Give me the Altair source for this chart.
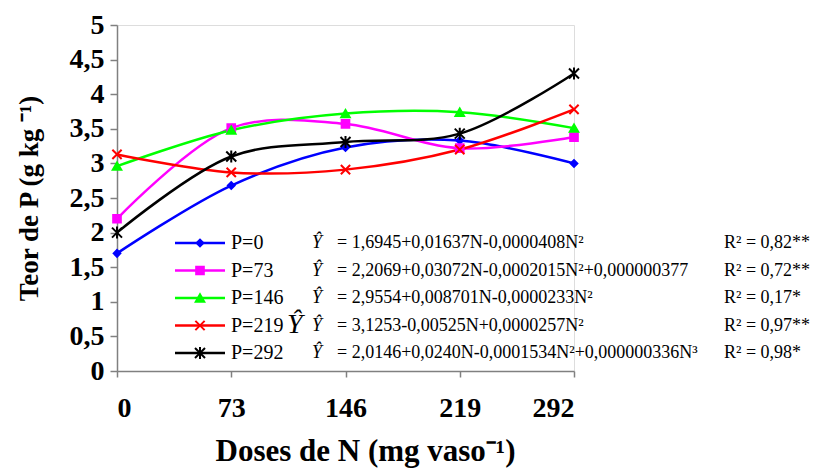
import altair as alt
import pandas as pd

doses = [0, 73, 146, 219, 292]
series = ["P=0", "P=73", "P=146", "P=219", "P=292"]
p0 = [1.70, 2.68, 3.23, 3.33, 3.00]
p73 = [2.20, 3.51, 3.57, 3.22, 3.38]
p146 = [2.96, 3.48, 3.72, 3.74, 3.51]
p219 = [3.13, 2.87, 2.91, 3.20, 3.78]
p292 = [2.00, 3.10, 3.31, 3.43, 4.30]
equations = [
    "= 1,6945+0,01637N-0,0000408N²",
    "= 2,2069+0,03072N-0,0002015N²+0,000000377",
    "= 2,9554+0,008701N-0,0000233N²",
    "= 3,1253-0,00525N+0,0000257N²",
    "= 2,0146+0,0240N-0,0001534N²+0,000000336N³",
]
r2 = ["R² = 0,82**", "R² = 0,72**", "R² = 0,17*", "R² = 0,97**", "R² = 0,98*"]
y_ticks = [0, 0.5, 1, 1.5, 2, 2.5, 3, 3.5, 4, 4.5, 5]

colors = ["#0000FF", "#FF00FF", "#00FF00", "#FF0000", "#000000"]
X_PATH = "M-1,-1L1,1M1,-1L-1,1"
AST_PATH = "M-1,-1L1,1M1,-1L-1,1M0,-1.2L0,1.2"
shapes = ["diamond", "square", "triangle-up", X_PATH, AST_PATH]
sizes = [45, 100, 80, 110, 100]

rows = []
for s, vals in zip(series, [p0, p73, p146, p219, p292]):
    for n, v in zip(doses, vals):
        rows.append({"series": s, "N": n, "teor": v})
df = pd.DataFrame(rows)

leg = pd.DataFrame({"series": series, "eq": equations, "r2": r2, "idx": list(range(len(series)))})

color = alt.Color("series:N", scale=alt.Scale(domain=series, range=colors), legend=None)
stroke = alt.Stroke("series:N", scale=alt.Scale(domain=series, range=colors), legend=None)
shape = alt.Shape("series:N", scale=alt.Scale(domain=series, range=shapes), legend=None)
size = alt.Size("series:N", scale=alt.Scale(domain=series, range=sizes), legend=None)

FONT = "Liberation Serif"

x_enc = alt.X(
    "N:Q",
    scale=alt.Scale(domain=[0, 292], nice=False, zero=False),
    axis=alt.Axis(
        values=doses, grid=False, title="Doses de N (mg vaso⁻¹)",
        titleX=248, titleY=89, titleAnchor=None, titleAlign="center", titleBaseline="alphabetic",
        labelFontSize=28, labelFont=FONT, labelFontWeight="bold", labelPadding=17,
        labelOverlap=False,
        titleFontSize=31, titleFont=FONT, titleFontWeight="bold",
        tickSize=6, domainColor="#808080", tickColor="#808080", domainWidth=1.5, tickWidth=1.5,
        labelColor="black", titleColor="black",
    ),
)
y_enc = alt.Y(
    "teor:Q",
    scale=alt.Scale(domain=[0, 5], nice=False),
    axis=alt.Axis(
        values=y_ticks, grid=False, title="Teor de P (g kg ⁻¹)",
        labelExpr="replace(toString(datum.value), '.', ',')",
        labelOverlap=False, labelFlush=False,
        titleX=-88, titleY=173, titleAngle=-90, titleAlign="center", titleBaseline="middle",
        labelFontSize=28, labelFont=FONT, labelFontWeight="bold", labelPadding=6,
        titleFontSize=27, titleFont=FONT, titleFontWeight="bold",
        tickSize=7, domainColor="#808080", tickColor="#808080", domainWidth=1.5, tickWidth=1.5,
        labelColor="black", titleColor="black",
    ),
)

base = alt.Chart(df)
lines = base.mark_line(interpolate="catmull-rom", strokeWidth=2.5).encode(
    x=x_enc, y=y_enc, color=color, detail="series:N", order="N:Q"
)
points = base.mark_point(filled=True, strokeWidth=2, opacity=1).encode(
    x=x_enc, y=y_enc, color=color, stroke=stroke, shape=shape, size=size
)

ly = alt.Y("py:Q", scale=None, axis=None)
lb = alt.Chart(leg).transform_calculate(py="218 + datum.idx * 27.5")
leg_rule = lb.mark_rule(strokeWidth=2.5).encode(
    x=alt.value(58), x2=alt.value(108), y=ly, color=color
)
leg_pt = lb.mark_point(filled=True, strokeWidth=2, opacity=1).encode(
    x=alt.value(83), y=ly, color=color, stroke=stroke, shape=shape, size=size
)
leg_lab = lb.mark_text(align="left", baseline="middle", font=FONT, fontSize=20, color="black").encode(
    x=alt.value(114), y=ly, text="series:N"
)
leg_hat = lb.mark_text(align="left", baseline="middle", font=FONT, fontSize=18, fontStyle="italic", color="black").encode(
    x=alt.value(195), y=ly, text=alt.value("Ŷ")
)
leg_eq = lb.mark_text(align="left", baseline="middle", font=FONT, fontSize=18, color="black").encode(
    x=alt.value(220), y=ly, text="eq:N"
)
leg_r2 = lb.mark_text(align="left", baseline="middle", font=FONT, fontSize=18, color="black").encode(
    x=alt.value(607), y=ly, text="r2:N"
)
big_hat = alt.Chart(pd.DataFrame({"t": ["Ŷ"]})).mark_text(
    align="left", baseline="alphabetic", font=FONT, fontSize=28, fontStyle="italic", color="black"
).encode(x=alt.value(170), y=alt.value(308), text="t:N")

chart = alt.layer(
    lines, points, leg_rule, leg_pt, leg_lab, leg_hat, leg_eq, leg_r2, big_hat
).properties(
    width=457, height=346,
    autosize=alt.AutoSizeParams(type="none"),
    padding={"left": 109, "top": 17, "right": 236, "bottom": 97},
).configure_view(stroke=None).configure(background="white")

chart.save("out.html", embed_options={"renderer": "svg", "actions": False})
